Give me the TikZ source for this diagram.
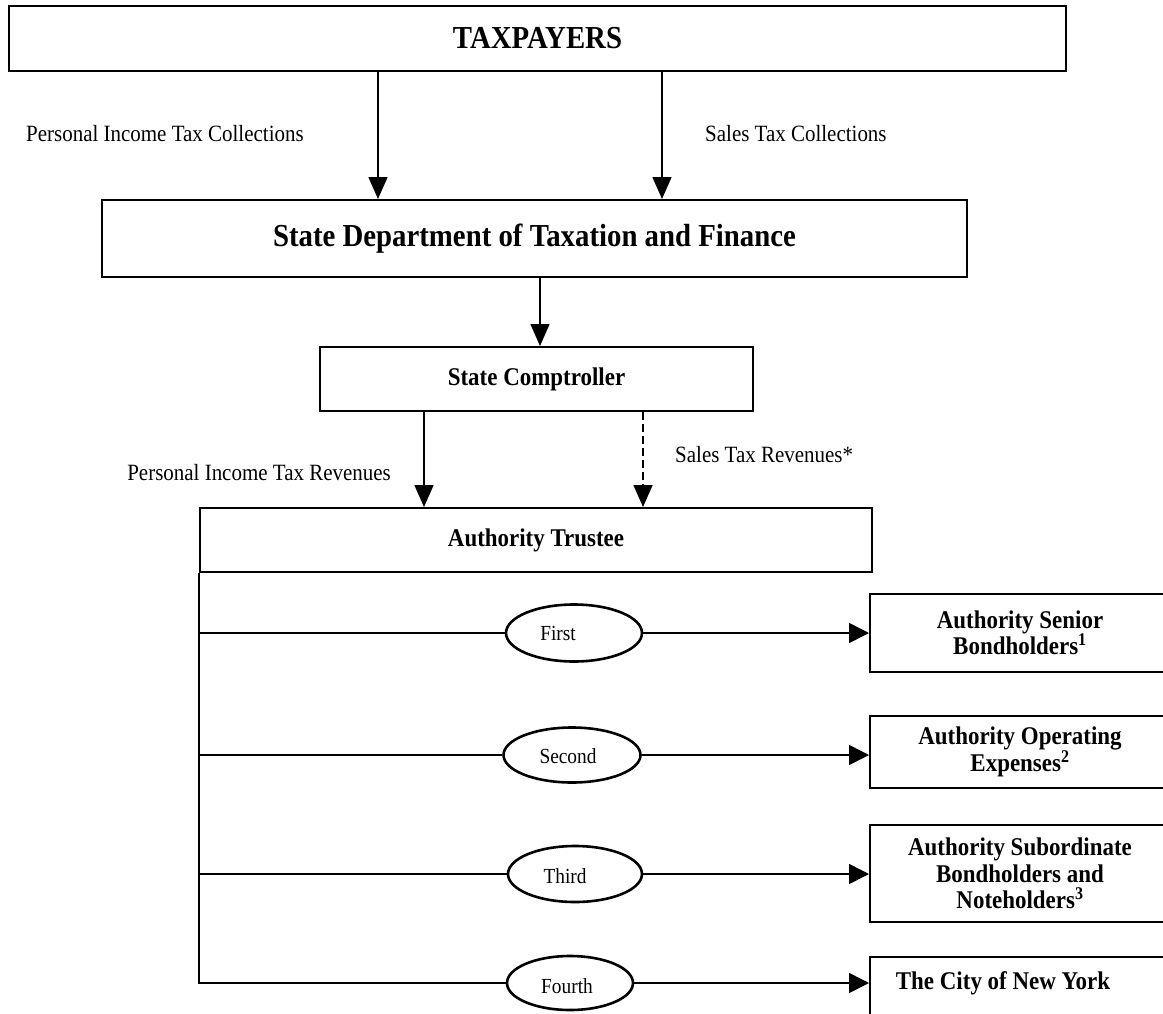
\documentclass[tikz,border=0pt]{standalone}
\usepackage{fontspec}
\setmainfont[FakeStretch=0.9]{Liberation Serif}
\usetikzlibrary{arrows.meta,shapes.geometric}
\newcommand\fbig{\fontsize{32}{36}\selectfont\bfseries}
\newcommand\fmid{\fontsize{25.5}{26.5}\selectfont\bfseries}
\newcommand\flab{\fontsize{23.3}{26}\selectfont}
\newcommand\ford{\fontsize{21.5}{24}\selectfont}
\tikzset{
  box/.style={draw, line width=2pt, rectangle, inner sep=0pt, align=center},
  rbox/.style={box, minimum width=300pt, font=\fmid},
  arr/.style={line width=1.6pt, -{Triangle[length=22pt,width=19pt]}},
  harr/.style={line width=1.6pt, -{Triangle[length=20pt,width=20pt]}},
  ln/.style={line width=1.6pt},
  oval/.style={draw, ellipse, line width=2.6pt, inner sep=0pt},
  lab/.style={font=\flab, inner sep=0pt},
  ordtxt/.style={font=\ford, inner sep=0pt}
}
\begin{document}
\begin{tikzpicture}[x=1pt,y=-1pt]
\clip (0,0) rectangle (1163,1013);
\fill[white] (0,0) rectangle (1163,1013);
% main boxes
\node[box, minimum width=1057pt, minimum height=65pt, font=\fbig] (tax) at (537.5,38.5) {TAXPAYERS};
\node[box, minimum width=865pt, minimum height=77pt, font=\fbig] (dept) at (534.5,238.5) {State Department of Taxation and Finance};
\node[box, minimum width=433pt, minimum height=64pt, font=\fmid] (comp) at (536.5,379) {State Comptroller};
\node[box, minimum width=672pt, minimum height=64pt, font=\fmid] (trust) at (536,540) {Authority Trustee};
% flow arrows
\coordinate (xa) at (378,0);
\coordinate (xb) at (662,0);
\coordinate (xc) at (540,0);
\coordinate (xd) at (424,0);
\coordinate (xe) at (643,0);
\draw[arr] (xa |- tax.south) -- (xa |- dept.north);
\draw[arr] (xb |- tax.south) -- (xb |- dept.north);
\draw[arr] (xc |- dept.south) -- (xc |- comp.north);
\draw[arr] (xd |- comp.south) -- (xd |- trust.north);
\draw[arr, dash pattern=on 8pt off 4pt] (xe |- comp.south) -- (xe |- trust.north);
% labels
\node[lab, anchor=west] (l1) at (26,134) {Personal Income Tax Collections};
\node[lab, anchor=west] (l2) at (705,134) {Sales Tax Collections};
\node[lab, anchor=east] (l3) at (391,473) {Personal Income Tax Revenues};
\node[lab, anchor=west] (l4) at (675,455) {Sales Tax Revenues*};
% ellipses
\node[oval, minimum width=136pt, minimum height=57pt] (e1) at (574,633) {};
\node[oval, minimum width=137pt, minimum height=55pt] (e2) at (572,755) {};
\node[oval, minimum width=134pt, minimum height=56pt] (e3) at (575,874) {};
\node[oval, minimum width=126pt, minimum height=54pt] (e4) at (570,983) {};
\node[ordtxt] (t1) at (558,633) {First};
\node[ordtxt] (t2) at (568,756) {Second};
\node[ordtxt] (t3) at (565,876) {Third};
\node[ordtxt] (t4) at (567,986) {Fourth};
% right boxes
\node[rbox, minimum height=78pt] (b1) at (1020,633) {Authority Senior\\Bondholders\textsuperscript{1}};
\node[rbox, minimum height=72pt] (b2) at (1020,752) {Authority Operating\\Expenses\textsuperscript{2}};
\node[rbox, minimum height=97pt] (b3) at (1020,873.5) {Authority Subordinate\\Bondholders and\\Noteholders\textsuperscript{3}};
\node[rbox, minimum height=80pt] (b4) at (1020,997) {};
\node[font=\fmid, inner sep=0pt] (b4t) at (1003,983) {The City of New York};
% branch lines
\draw[ln] (trust.south west) |- (e4.west);
\draw[ln] (trust.south west |- e1.west) -- (e1.west);
\draw[ln] (trust.south west |- e2.west) -- (e2.west);
\draw[ln] (trust.south west |- e3.west) -- (e3.west);
\draw[harr] (e1.east) -- (e1.east -| b1.west);
\draw[harr] (e2.east) -- (e2.east -| b2.west);
\draw[harr] (e3.east) -- (e3.east -| b3.west);
\draw[harr] (e4.east) -- (e4.east -| b4.west);
\end{tikzpicture}
\end{document}
